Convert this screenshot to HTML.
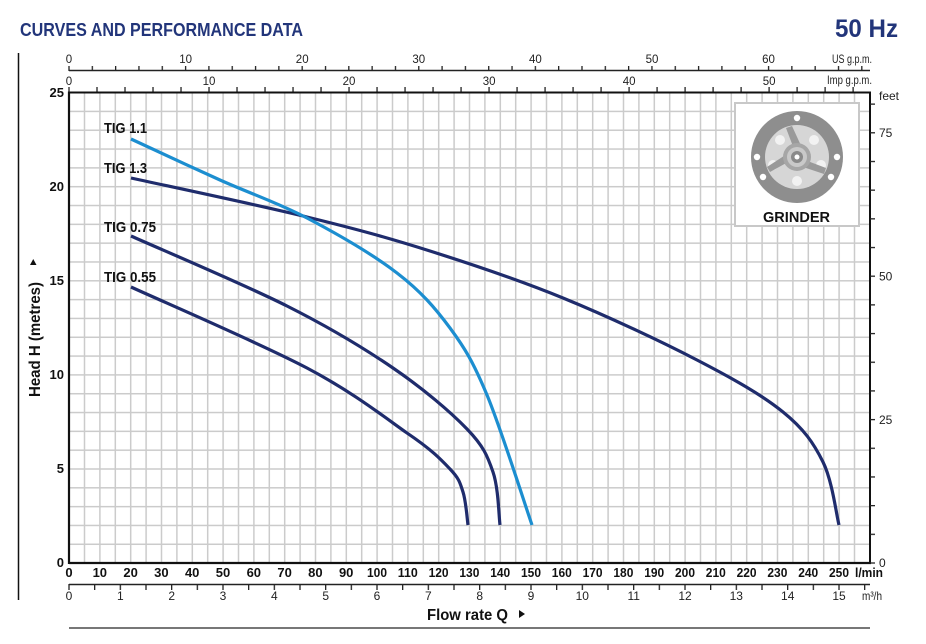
<!DOCTYPE html>
<html>
<head>
<meta charset="utf-8">
<style>
  html,body{margin:0;padding:0;background:#fff;}
  svg{display:block;}
  text{font-family:"Liberation Sans",Arial,sans-serif;}
</style>
</head>
<body>
<svg width="926" height="644" viewBox="0 0 926 644" xmlns="http://www.w3.org/2000/svg">
  <defs>
    <pattern id="grid" x="68.35" y="91.85" width="15.4" height="18.82" patternUnits="userSpaceOnUse">
      <rect x="0" y="0" width="1.5" height="18.82" fill="#cbcbcb"/>
      <rect x="0" y="0" width="15.4" height="1.5" fill="#cbcbcb"/>
    </pattern>
    <pattern id="tUS" x="68.35" y="0" width="23.318" height="644" patternUnits="userSpaceOnUse">
      <rect x="0" y="0" width="1.3" height="644" fill="#222"/>
    </pattern>
    <pattern id="tImp" x="68.35" y="0" width="28.004" height="644" patternUnits="userSpaceOnUse">
      <rect x="0" y="0" width="1.3" height="644" fill="#222"/>
    </pattern>
    <pattern id="tM3" x="68.35" y="0" width="25.667" height="644" patternUnits="userSpaceOnUse">
      <rect x="0" y="0" width="1.3" height="644" fill="#222"/>
    </pattern>
    <pattern id="tFt" x="0" y="562.35" width="926" height="28.68" patternUnits="userSpaceOnUse">
      <rect x="0" y="0" width="926" height="1.3" fill="#222"/>
    </pattern>
  </defs>

  <!-- Title -->
  <text x="20" y="36" font-size="18" font-weight="bold" fill="#22357a" textLength="283" lengthAdjust="spacingAndGlyphs">CURVES AND PERFORMANCE DATA</text>
  <text x="835" y="37" font-size="25" font-weight="bold" fill="#22357a" textLength="63" lengthAdjust="spacingAndGlyphs">50 Hz</text>

  <!-- left vertical line -->
  <line x1="18.5" y1="53" x2="18.5" y2="600" stroke="#111" stroke-width="1.5"/>

  <!-- grid -->
  <rect x="69" y="92.5" width="801" height="470.5" fill="url(#grid)"/>

  <!-- US gpm axis -->
  <line x1="69" y1="70.5" x2="870" y2="70.5" stroke="#222" stroke-width="1.5"/>
  <rect x="68" y="66" width="796" height="5" fill="url(#tUS)"/>
  <g font-size="11.5" fill="#222" text-anchor="middle">
    <text x="69" y="63">0</text>
    <text x="185.6" y="63">10</text>
    <text x="302.2" y="63">20</text>
    <text x="418.8" y="63">30</text>
    <text x="535.4" y="63">40</text>
    <text x="652" y="63">50</text>
    <text x="768.5" y="63">60</text>
  </g>
  <text x="872" y="63" font-size="11.5" fill="#222" text-anchor="end" textLength="40" lengthAdjust="spacingAndGlyphs">US g.p.m.</text>

  <!-- Imp gpm axis -->
  <rect x="68" y="87" width="790" height="5" fill="url(#tImp)"/>
  <g font-size="11.5" fill="#222" text-anchor="middle">
    <text x="69" y="85">0</text>
    <text x="209" y="85">10</text>
    <text x="349" y="85">20</text>
    <text x="489.1" y="85">30</text>
    <text x="629.1" y="85">40</text>
    <text x="769.1" y="85">50</text>
  </g>
  <text x="872" y="84" font-size="11.5" fill="#222" text-anchor="end" textLength="45" lengthAdjust="spacingAndGlyphs">Imp g.p.m.</text>

  <!-- Grinder box -->
  <rect x="735" y="103" width="124" height="123" fill="#fff" stroke="#c8c8c8" stroke-width="2"/>
  <g>
    <circle cx="797" cy="157" r="46" fill="#8e8e8e"/>
    <circle cx="797" cy="118" r="3.2" fill="#fff"/>
    <circle cx="757" cy="157" r="3.2" fill="#fff"/>
    <circle cx="837" cy="157" r="3.2" fill="#fff"/>
    <circle cx="763" cy="177" r="3.2" fill="#fff"/>
    <circle cx="831" cy="177" r="3.2" fill="#fff"/>
    <circle cx="797" cy="157" r="32" fill="#d6d6d6"/>
    <circle cx="780" cy="140" r="5" fill="#f2f2f2"/>
    <circle cx="814" cy="140" r="5" fill="#f2f2f2"/>
    <circle cx="773" cy="165" r="5" fill="#f2f2f2"/>
    <circle cx="821" cy="165" r="5" fill="#f2f2f2"/>
    <circle cx="797" cy="181" r="5" fill="#f2f2f2"/>
    <path d="M797 157 L786 128 L792 126 L803 150 Z" fill="#9a9a9a"/>
    <path d="M797 157 L826 168 L824 174 L797 165 Z" fill="#9a9a9a"/>
    <path d="M797 157 L770 172 L767 167 L790 152 Z" fill="#9a9a9a"/>
    <circle cx="797" cy="157" r="14" fill="#a6a6a6"/>
    <circle cx="797" cy="157" r="10" fill="#c9c9c9"/>
    <circle cx="797" cy="157" r="6" fill="#8a8a8a"/>
    <circle cx="797" cy="157" r="2.5" fill="#fff"/>
  </g>
  <text x="763" y="222" font-size="15" font-weight="bold" fill="#111" textLength="67" lengthAdjust="spacingAndGlyphs">GRINDER</text>

  <!-- plot border -->
  <line x1="69" y1="92.5" x2="870" y2="92.5" stroke="#111" stroke-width="2"/>
  <line x1="870" y1="91.5" x2="870" y2="564" stroke="#111" stroke-width="2"/>
  <line x1="69" y1="563" x2="871" y2="563" stroke="#111" stroke-width="2.2"/>
  <line x1="69" y1="91.5" x2="69" y2="564" stroke="#111" stroke-width="2.2"/>

  <!-- feet ticks -->
  <rect x="870" y="100" width="5" height="465" fill="url(#tFt)"/>
  <g font-size="12" fill="#222">
    <text x="879" y="100">feet</text>
    <text x="879" y="137">75</text>
    <text x="879" y="280.5">50</text>
    <text x="879" y="424">25</text>
    <text x="879" y="567">0</text>
  </g>

  <!-- Y labels -->
  <g font-size="13" font-weight="bold" fill="#111" text-anchor="end">
    <text x="64" y="97">25</text>
    <text x="64" y="191">20</text>
    <text x="64" y="285">15</text>
    <text x="64" y="379">10</text>
    <text x="64" y="473">5</text>
    <text x="64" y="567">0</text>
  </g>
  <text transform="translate(40,397) rotate(-90)" x="0" y="0" font-size="16" font-weight="bold" fill="#111" textLength="115" lengthAdjust="spacingAndGlyphs">Head H (metres)</text>
  <polygon points="30,265 36.5,265 33.25,259" fill="#111"/>

  <!-- l/min labels -->
  <g font-size="13" font-weight="bold" fill="#111" text-anchor="middle">
    <text x="69" y="577">0</text>
    <text x="99.8" y="577">10</text>
    <text x="130.6" y="577">20</text>
    <text x="161.4" y="577">30</text>
    <text x="192.2" y="577">40</text>
    <text x="223" y="577">50</text>
    <text x="253.8" y="577">60</text>
    <text x="284.6" y="577">70</text>
    <text x="315.4" y="577">80</text>
    <text x="346.2" y="577">90</text>
    <text x="377" y="577" textLength="20" lengthAdjust="spacingAndGlyphs">100</text>
    <text x="407.8" y="577" textLength="20" lengthAdjust="spacingAndGlyphs">110</text>
    <text x="438.6" y="577" textLength="20" lengthAdjust="spacingAndGlyphs">120</text>
    <text x="469.4" y="577" textLength="20" lengthAdjust="spacingAndGlyphs">130</text>
    <text x="500.2" y="577" textLength="20" lengthAdjust="spacingAndGlyphs">140</text>
    <text x="531" y="577" textLength="20" lengthAdjust="spacingAndGlyphs">150</text>
    <text x="561.8" y="577" textLength="20" lengthAdjust="spacingAndGlyphs">160</text>
    <text x="592.6" y="577" textLength="20" lengthAdjust="spacingAndGlyphs">170</text>
    <text x="623.4" y="577" textLength="20" lengthAdjust="spacingAndGlyphs">180</text>
    <text x="654.2" y="577" textLength="20" lengthAdjust="spacingAndGlyphs">190</text>
    <text x="685" y="577" textLength="20" lengthAdjust="spacingAndGlyphs">200</text>
    <text x="715.8" y="577" textLength="20" lengthAdjust="spacingAndGlyphs">210</text>
    <text x="746.6" y="577" textLength="20" lengthAdjust="spacingAndGlyphs">220</text>
    <text x="777.4" y="577" textLength="20" lengthAdjust="spacingAndGlyphs">230</text>
    <text x="808.2" y="577" textLength="20" lengthAdjust="spacingAndGlyphs">240</text>
    <text x="839" y="577" textLength="20" lengthAdjust="spacingAndGlyphs">250</text>
  </g>
  <text x="855" y="577" font-size="13" font-weight="bold" fill="#111" textLength="28" lengthAdjust="spacingAndGlyphs">l/min</text>

  <!-- m3/h axis -->
  <line x1="69" y1="584.5" x2="870" y2="584.5" stroke="#222" stroke-width="1.5"/>
  <rect x="68" y="584" width="800" height="6" fill="url(#tM3)"/>
  <g font-size="12" fill="#222" text-anchor="middle">
    <text x="69" y="600">0</text>
    <text x="120.3" y="600">1</text>
    <text x="171.7" y="600">2</text>
    <text x="223" y="600">3</text>
    <text x="274.3" y="600">4</text>
    <text x="325.7" y="600">5</text>
    <text x="377" y="600">6</text>
    <text x="428.3" y="600">7</text>
    <text x="479.7" y="600">8</text>
    <text x="531" y="600">9</text>
    <text x="582.3" y="600">10</text>
    <text x="633.7" y="600">11</text>
    <text x="685" y="600">12</text>
    <text x="736.3" y="600">13</text>
    <text x="787.7" y="600">14</text>
    <text x="839" y="600">15</text>
  </g>
  <text x="862" y="600" font-size="12" fill="#222" textLength="20" lengthAdjust="spacingAndGlyphs">m³/h</text>

  <!-- Flow rate label -->
  <text x="427" y="620" font-size="16" font-weight="bold" fill="#111" textLength="81" lengthAdjust="spacingAndGlyphs">Flow rate Q</text>
  <polygon points="519,610 525,614 519,618" fill="#111"/>

  <!-- bottom gray line -->
  <line x1="69" y1="628" x2="870" y2="628" stroke="#777" stroke-width="2"/>

  <!-- Curves -->
  <g fill="none" stroke-width="3.2" stroke-linejoin="round" stroke-linecap="butt">
    <path stroke="#1f2c6c" d="M131,178 C160.3,184.5 257.2,204.8 307,217 C356.8,229.2 387.3,237.5 430,251 C472.7,264.5 518.5,279.8 563,298 C607.5,316.2 660.3,341 697,360 C733.7,379 762,395 783,412 C804,429 813.7,443.2 823,462 C832.3,480.8 836.3,514.5 839,525"/>
    <path stroke="#1f2c6c" d="M131,236 C157,247.7 243.3,284 287,306 C330.7,328 363,347.5 393,368 C423,388.5 450.3,411.7 467,429 C483.7,446.3 487.5,456 493,472 C498.5,488 498.8,516.2 500,525"/>
    <path stroke="#1f2c6c" d="M131,287 C160.3,300.5 261,343.7 307,368 C353,392.3 383.2,416.2 407,433 C431.8,449.8 440.7,459.2 450,469 C459.3,478.8 460,482.7 463,492 C466,501.3 467.2,519.5 468,525"/>
    <path stroke="#1c8ed0" d="M131,139 C145.8,145.8 190.7,166.8 220,180 C249.3,193.2 277.5,202.5 307,218 C336.5,233.5 373.2,254.7 397,273 C420.8,291.3 435,307.7 450,328 C465,348.3 473.3,362.2 487,395 C500.7,427.8 524.5,503.3 532,525"/>
  </g>

  <!-- Curve labels -->
  <g font-size="15" font-weight="bold" fill="#111">
    <text x="104" y="133" textLength="43" lengthAdjust="spacingAndGlyphs">TIG 1.1</text>
    <text x="104" y="173" textLength="43" lengthAdjust="spacingAndGlyphs">TIG 1.3</text>
    <text x="104" y="232" textLength="52" lengthAdjust="spacingAndGlyphs">TIG 0.75</text>
    <text x="104" y="282" textLength="52" lengthAdjust="spacingAndGlyphs">TIG 0.55</text>
  </g>
</svg>
</body>
</html>
